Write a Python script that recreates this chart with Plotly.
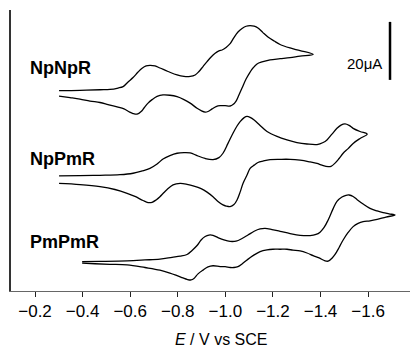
import plotly.graph_objects as go

# ---- data: cyclic voltammograms (E in V vs SCE, I in uA, curves stacked) ----
# NpNpR: forward scan (to negative) then return scan
npnp_E_fwd = [-0.301, -0.389, -0.473, -0.515, -0.549, -0.570, -0.591, -0.612, -0.633, -0.650,
              -0.667, -0.683, -0.704, -0.725, -0.759, -0.797, -0.826, -0.852, -0.873, -0.889,
              -0.906, -0.923, -0.940, -0.957, -0.973, -0.986, -1.003, -1.020, -1.036, -1.053,
              -1.070, -1.087, -1.104, -1.121, -1.137, -1.158, -1.179, -1.205, -1.230, -1.272,
              -1.314, -1.369]
npnp_I_fwd = [69.1, 69.2, 69.4, 69.5, 70.0, 70.5, 72.1, 73.6, 75.5, 76.8,
              77.6, 77.8, 77.6, 76.9, 75.7, 74.5, 74.0, 74.0, 74.5, 75.7,
              77.4, 79.1, 80.7, 82.0, 82.8, 83.1, 84.0, 85.3, 87.4, 89.3,
              90.5, 91.3, 91.5, 91.3, 90.7, 89.1, 87.6, 86.2, 85.0, 83.8,
              82.9, 81.6]
npnp_E_rev = [-1.314, -1.272, -1.230, -1.188, -1.154, -1.133, -1.116, -1.104, -1.087, -1.070,
              -1.057, -1.045, -1.032, -1.020, -0.999, -0.978, -0.961, -0.944, -0.927, -0.915,
              -0.898, -0.881, -0.852, -0.826, -0.797, -0.767, -0.738, -0.713, -0.692, -0.675,
              -0.658, -0.646, -0.629, -0.612, -0.595, -0.574, -0.545, -0.507, -0.473, -0.431,
              -0.389, -0.347, -0.301]
npnp_I_rev = [81.0, 80.5, 80.1, 79.7, 79.0, 78.3, 76.9, 75.5, 73.1, 70.0,
              67.6, 65.5, 64.3, 63.8, 63.9, 63.9, 63.6, 62.8, 61.9, 61.7,
              62.2, 63.0, 64.8, 66.0, 67.0, 67.5, 67.6, 67.1, 66.0, 64.8,
              63.1, 61.9, 61.0, 61.2, 61.8, 62.8, 63.5, 64.3, 65.0, 65.5,
              66.2, 66.7, 67.2]

# NpPmR
nppm_E_fwd = [-0.301, -0.389, -0.473, -0.557, -0.612, -0.650, -0.683, -0.713, -0.738, -0.767,
              -0.797, -0.826, -0.852, -0.881, -0.915, -0.948, -0.973, -0.990, -1.011, -1.032,
              -1.049, -1.062, -1.079, -1.091, -1.104, -1.121, -1.146, -1.175, -1.217, -1.259,
              -1.301, -1.343, -1.385, -1.411, -1.427, -1.448, -1.469, -1.486, -1.503, -1.520,
              -1.537, -1.566, -1.596]
nppm_I_fwd = [39.7, 39.8, 39.9, 40.1, 40.6, 41.4, 42.3, 43.8, 45.5, 46.7,
              47.5, 47.7, 47.6, 46.7, 45.7, 45.3, 46.0, 47.5, 50.9, 54.4,
              56.9, 58.4, 59.8, 60.2, 59.9, 59.0, 57.1, 55.0, 53.3, 52.1,
              51.2, 50.7, 50.5, 51.2, 52.1, 54.1, 56.1, 57.2, 57.6, 57.1,
              56.1, 55.0, 54.1]
nppm_E_rev = [-1.566, -1.537, -1.516, -1.495, -1.478, -1.461, -1.444, -1.432, -1.406, -1.385,
              -1.356, -1.314, -1.272, -1.230, -1.188, -1.158, -1.137, -1.121, -1.104, -1.091,
              -1.074, -1.062, -1.049, -1.036, -1.020, -1.003, -0.990, -0.969, -0.948, -0.923,
              -0.898, -0.868, -0.839, -0.810, -0.780, -0.755, -0.738, -0.725, -0.709, -0.692,
              -0.675, -0.654, -0.620, -0.587, -0.536, -0.473, -0.389, -0.301]
nppm_I_rev = [52.6, 50.9, 49.1, 47.5, 45.7, 44.1, 43.0, 42.9, 43.4, 44.0,
              44.5, 45.1, 45.4, 45.4, 45.3, 44.8, 44.3, 43.4, 42.3, 40.0,
              37.1, 34.1, 31.4, 29.8, 29.1, 29.3, 29.7, 30.9, 32.5, 34.1,
              35.3, 36.2, 36.8, 37.1, 36.6, 35.0, 33.6, 32.5, 31.4, 30.6,
              30.5, 31.2, 32.6, 33.7, 35.0, 36.0, 36.7, 37.1]

# PmPmR
pmpm_E_fwd = [-0.398, -0.473, -0.587, -0.662, -0.725, -0.776, -0.810, -0.839, -0.860, -0.881,
              -0.898, -0.915, -0.931, -0.948, -0.969, -0.994, -1.020, -1.045, -1.070, -1.095,
              -1.121, -1.146, -1.167, -1.196, -1.230, -1.272, -1.314, -1.356, -1.381, -1.398,
              -1.415, -1.432, -1.453, -1.469, -1.490, -1.507, -1.520, -1.537, -1.554, -1.579,
              -1.608, -1.638, -1.663, -1.688, -1.713]
pmpm_I_fwd = [10.1, 10.2, 10.4, 10.7, 11.0, 11.6, 12.0, 12.6, 14.0, 15.7,
              17.6, 18.8, 19.3, 19.2, 18.4, 17.6, 17.1, 17.2, 18.1, 19.3,
              20.6, 21.4, 21.6, 21.2, 20.6, 19.8, 19.2, 19.1, 19.5, 20.3,
              21.9, 24.5, 28.4, 30.9, 32.4, 33.0, 33.1, 32.6, 31.5, 30.0,
              28.5, 27.6, 27.0, 26.6, 26.2]
pmpm_E_rev = [-1.675, -1.638, -1.608, -1.579, -1.558, -1.537, -1.516, -1.495, -1.478, -1.461,
              -1.448, -1.432, -1.419, -1.394, -1.369, -1.343, -1.314, -1.284, -1.259, -1.230,
              -1.200, -1.175, -1.146, -1.116, -1.091, -1.070, -1.053, -1.036, -1.020, -0.999,
              -0.978, -0.948, -0.927, -0.906, -0.885, -0.868, -0.856, -0.839, -0.822, -0.797,
              -0.767, -0.725, -0.662, -0.587, -0.515, -0.452, -0.398]
pmpm_I_rev = [25.5, 24.7, 24.2, 23.9, 23.3, 22.2, 20.2, 17.6, 15.0, 12.6,
              11.3, 10.3, 10.4, 11.4, 12.2, 13.1, 13.8, 14.1, 14.4, 14.4,
              14.4, 14.2, 13.6, 12.2, 10.7, 9.3, 8.4, 8.1, 8.1, 8.4,
              8.4, 8.7, 8.3, 7.2, 5.9, 4.3, 3.8, 4.0, 4.5, 5.3,
              6.2, 7.2, 8.1, 9.0, 9.2, 9.4, 9.6]

compounds = ["NpNpR", "NpPmR", "PmPmR"]
tick_vals = [-0.2, -0.4, -0.6, -0.8, -1.0, -1.2, -1.4, -1.6]
tick_text = ["\u22120.2", "\u22120.4", "\u22120.6", "\u22120.8", "\u22121.0", "\u22121.2", "\u22121.4", "\u22121.6"]
scale_bar_uA = 20

FONT = "Liberation Sans, Arial, Helvetica, sans-serif"

fig = go.Figure()
for E_f, I_f, E_r, I_r, name in [
    (npnp_E_fwd, npnp_I_fwd, npnp_E_rev, npnp_I_rev, compounds[0]),
    (nppm_E_fwd, nppm_I_fwd, nppm_E_rev, nppm_I_rev, compounds[1]),
    (pmpm_E_fwd, pmpm_I_fwd, pmpm_E_rev, pmpm_I_rev, compounds[2]),
]:
    fig.add_trace(go.Scatter(x=E_f + E_r, y=I_f + I_r, mode="lines", name=name,
                             line=dict(color="black", width=1.3, shape="spline", smoothing=1.0),
                             showlegend=False, hoverinfo="skip"))

# compound labels
label_y = [0.794, 0.470, 0.174]
for name, yp in zip(compounds, label_y):
    fig.add_annotation(text="<b>%s</b>" % name, xref="paper", yref="paper", x=0.043, y=yp,
                       xanchor="left", yanchor="middle", showarrow=False,
                       font=dict(family=FONT, size=18, color="black"))

# scale bar
bar_x = -1.692
bar_y0 = 72.8
fig.add_shape(type="line", xref="x", yref="y", x0=bar_x, x1=bar_x, y0=bar_y0, y1=bar_y0 + scale_bar_uA,
              line=dict(color="black", width=2.5))
fig.add_annotation(text="%d\u03bcA" % scale_bar_uA, xref="paper", yref="paper", x=0.934, y=0.811,
                   xanchor="right", yanchor="middle", showarrow=False,
                   font=dict(family=FONT, size=15, color="black"))

# axis title
fig.add_annotation(text="<i>E</i> / V vs SCE", xref="paper", yref="paper", x=0.526, y=-0.172,
                   xanchor="center", yanchor="middle", showarrow=False,
                   font=dict(family=FONT, size=16, color="black"))

fig.update_layout(
    width=410, height=350,
    margin=dict(l=11, r=0, t=10, b=59),
    paper_bgcolor="white", plot_bgcolor="white",
    xaxis=dict(range=[-0.099, -1.776], tickvals=tick_vals, ticktext=tick_text,
               ticks="outside", ticklen=5, tickwidth=1.2, tickcolor="#222",
               showline=True, linecolor="#666", linewidth=1, showgrid=False, zeroline=False,
               tickfont=dict(family=FONT, size=17, color="black")),
    yaxis=dict(range=[0, 96.9], showticklabels=False, ticks="", showgrid=False, zeroline=False,
               showline=True, linecolor="#333", linewidth=1.6),
)

fig.write_html("out.html")
